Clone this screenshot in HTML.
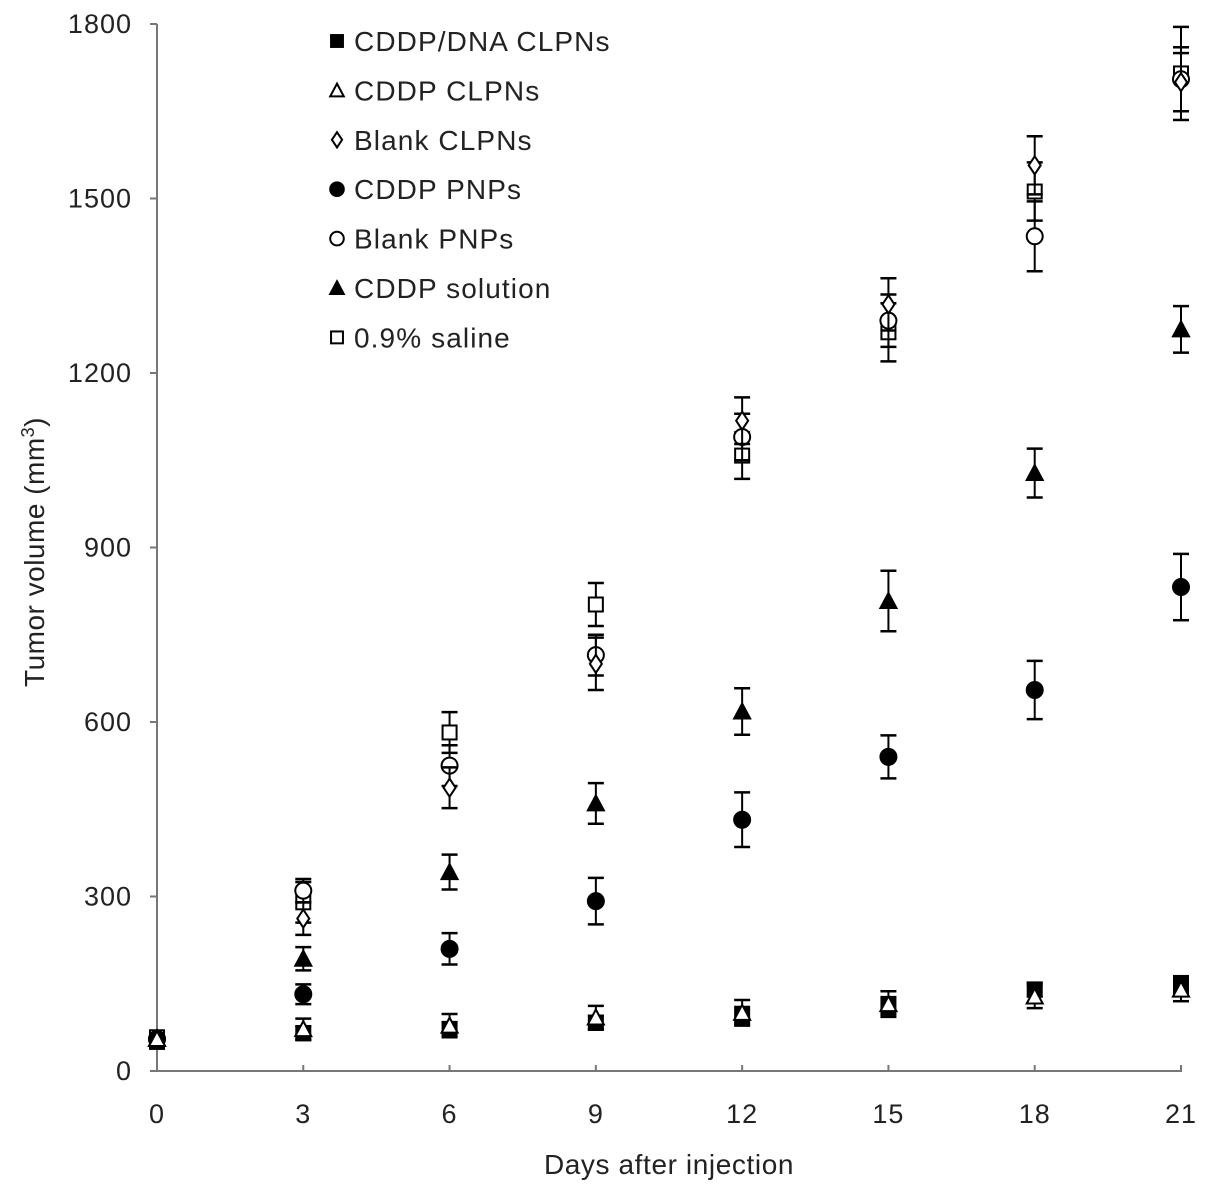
<!DOCTYPE html>
<html><head><meta charset="utf-8">
<style>
html,body{margin:0;padding:0;background:#fff;}
svg{display:block;font-family:"Liberation Sans",Arial,sans-serif;}
</style></head>
<body>
<svg id="chart" width="1205" height="1193" viewBox="0 0 1205 1193" xmlns="http://www.w3.org/2000/svg">
<g id="axes"></g>
<g id="marks"></g>
<g id="legend"></g>
<text x="669" y="1174" font-size="28" letter-spacing="0.6" text-anchor="middle" fill="#222">Days after injection</text>
<text transform="translate(44,552) rotate(-90)" font-size="28" letter-spacing="0.5" text-anchor="middle" fill="#222">Tumor volume (mm<tspan dy="-10" font-size="18">3</tspan><tspan dy="10">)</tspan></text>
</svg>
<script>
const days = [0,3,6,9,12,15,18,21];
const xTicks = [0,3,6,9,12,15,18,21];
const yTicks = [0,300,600,900,1200,1500,1800];
const seriesNames = ["CDDP/DNA CLPNs","CDDP CLPNs","Blank CLPNs","CDDP PNPs","Blank PNPs","CDDP solution","0.9% saline"];
const seriesMarkers = ["fsquare","otri","odiamond","fcircle","ocircle","ftri","osquare"];
const dnaClpn = [50,65,72,83,95,112,140,148];
const dnaClpnErr = [0,12,12,12,15,15,12,15];
const cddpClpn = [55,72,78,92,100,115,128,140];
const cddpClpnErr = [0,18,20,20,22,22,20,20];
const blankClpn = [55,262,487,700,1118,1318,1557,1700];
const blankClpnErr = [0,28,35,45,40,45,50,50];
const cddpPnp = [55,132,210,292,432,540,655,832];
const cddpPnpErr = [0,17,27,40,47,37,50,57];
const blankPnp = [55,310,525,715,1090,1290,1435,1705];
const blankPnpErr = [0,20,35,35,40,45,60,55];
const cddpSol = [55,193,342,460,618,808,1028,1275];
const cddpSolErr = [0,20,30,35,40,52,42,40];
const saline = [58,290,582,802,1058,1270,1512,1715];
const salineErr = [0,35,35,37,40,50,50,80];
const allSeries = [dnaClpn,cddpClpn,blankClpn,cddpPnp,blankPnp,cddpSol,saline];
const allErr = [dnaClpnErr,cddpClpnErr,blankClpnErr,cddpPnpErr,blankPnpErr,cddpSolErr,salineErr];

const NS="http://www.w3.org/2000/svg";
const X0=157,X1=1181,Y0=1071,Y1=24;
function xs(d){return X0+(d/21)*(X1-X0);}
function ys(v){return Y0-(v/1800)*(Y0-Y1);}
function mk(tag,attrs,parent){const e=document.createElementNS(NS,tag);for(const k in attrs)e.setAttribute(k,attrs[k]);parent.appendChild(e);return e;}

const axes=document.getElementById('axes');
const ax1=mk('line',{x1:X0,y1:Y1,x2:X0,y2:Y0,stroke:'#777','stroke-width':2},axes);


const ax2=mk('line',{x1:X0,y1:Y0,x2:X1,y2:Y0,stroke:'#777','stroke-width':2},axes);


yTicks.forEach(v=>{
  const y=ys(v);
  mk('line',{x1:X0-7,y1:y,x2:X0,y2:y,stroke:'#777','stroke-width':2},axes);
  const t=mk('text',{x:X0-25,y:y+9,'font-size':27,'letter-spacing':1,'text-anchor':'end',fill:'#222'},axes);
  t.textContent=v;
  
  
});
xTicks.forEach(d=>{
  const x=xs(d);
  mk('line',{x1:x,y1:Y0-6,x2:x,y2:Y0+1,stroke:'#777','stroke-width':2},axes);
  const t=mk('text',{x:x,y:Y0+52,'font-size':27,'letter-spacing':1,'text-anchor':'middle',fill:'#222'},axes);
  t.textContent=d;
  
  
});

function marker(type,x,y,parent,s){
  s=s||1;
  const fill=type[0]==='f'?'#000':'#fff';
  const st={stroke:'#000','stroke-width':2,fill:fill};
  let e;
  if(type.endsWith('square')) e=mk('rect',Object.assign({x:x-7*s,y:y-7*s,width:14*s,height:14*s},st),parent);
  else if(type.endsWith('circle')) e=mk('circle',Object.assign({cx:x,cy:y,r:8*s},st),parent);
  else if(type.endsWith('tri')) e=mk('polygon',Object.assign({points:`${x},${y-8*s} ${x+8*s},${y+7*s} ${x-8*s},${y+7*s}`},st),parent);
  else e=mk('polygon',Object.assign({points:`${x},${y-9*s} ${x+6*s},${y} ${x},${y+9*s} ${x-6*s},${y}`},st),parent);
  return e;
}

const marks=document.getElementById('marks');
const order=[0,6,4,2,5,3,1];
order.forEach(si=>{
  const g=mk('g',{},marks);
  
  
  allSeries[si].forEach((v,i)=>{
    const x=xs(days[i]),y=ys(v),e=allErr[si][i];
    if(e>0){
      const yt=ys(v+e),yb=ys(v-e);
      mk('line',{x1:x,y1:yt,x2:x,y2:yb,stroke:'#000','stroke-width':2},g);
      mk('line',{x1:x-8,y1:yt,x2:x+8,y2:yt,stroke:'#000','stroke-width':2.5},g);
      mk('line',{x1:x-8,y1:yb,x2:x+8,y2:yb,stroke:'#000','stroke-width':2.5},g);
    }
    const m=marker(seriesMarkers[si],x,y,g);
    
    
  });
});

const legend=document.getElementById('legend');
seriesNames.forEach((n,i)=>{
  const y=41+i*49.4;
  const g=mk('g',{},legend);
  
  
  marker(seriesMarkers[i],337,y,g,0.85);
  const t=mk('text',{x:354,y:y+10,'font-size':28,'letter-spacing':1.1,fill:'#222'},g);
  t.textContent=n;
});
</script>
</body></html>
